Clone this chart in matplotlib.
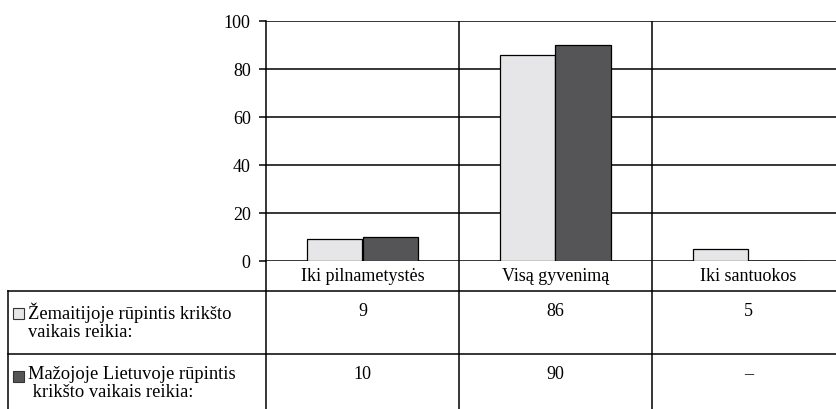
import matplotlib.pyplot as plt

# data
categories = ['Iki pilnametystės', 'Visą gyvenimą', 'Iki santuokos']
zemaitija = [9, 86, 5]
maz_lietuva = [10, 90, 0]
row_labels = ['Žemaitijoje rūpintis krikšto\nvaikais reikia:',
              'Mažojoje Lietuvoje rūpintis\n krikšto vaikais reikia:']
row_values = [['9', '86', '5'], ['10', '90', '–']]
yticks = [0, 20, 40, 60, 80, 100]

light = '#e6e6e8'
dark = '#555557'
colors = [light, dark]

plt.rcParams['font.family'] = ['Liberation Serif', 'DejaVu Serif']
W, H = 837, 410
fig = plt.figure(figsize=(W / 100, H / 100), dpi=100)

# chart area (right edge runs off the picture like in the scan)
ax = fig.add_axes([266 / W, (H - 262) / H, (845 - 266) / W, 240 / H])
ax.set_xlim(0, 3)
ax.set_ylim(0, 100)
bw = 0.29
xs = [i + 0.5 for i in range(len(categories))]
ax.bar([x - bw / 2 for x in xs], zemaitija, bw, color=light, edgecolor='black', lw=0.9, zorder=3)
ax.bar([x + bw / 2 for x in xs], maz_lietuva, bw, color=dark, edgecolor='black', lw=0.9, zorder=3)
ax.set_yticks(yticks)
ax.set_xticks([])
ax.tick_params(axis='y', length=5, width=1.1, pad=6, labelsize=13)
ax.grid(axis='y', color='black', lw=1.1, zorder=1)
for s in ['top', 'right', 'bottom']:
    ax.spines[s].set_visible(False)
ax.spines['left'].set_linewidth(1.1)
for i in range(1, len(categories)):
    ax.axvline(i, color='black', lw=1.1, zorder=2)

# table below the chart, in pixel coordinates
tab = fig.add_axes([0, 0, 1, 1], zorder=-1)
tab.set_xlim(0, W)
tab.set_ylim(H, 0)
tab.axis('off')
tab.patch.set_alpha(0)

col_px = [ax.transData.transform((i, 0))[0] for i in range(len(categories) + 1)]
lk = dict(color='black', lw=1.1)
for x in col_px[:-1]:
    tab.plot([x, x], [262, H], **lk)
tab.plot([8, W], [292, 292], **lk)
tab.plot([8, W], [355, 355], **lk)
tab.plot([8, 8], [292, H], **lk)

for i, c in enumerate(categories):
    cx = (col_px[i] + col_px[i + 1]) / 2
    tab.text(cx, 277, c, ha='center', va='center', fontsize=13)

row_y = [303, 366]
for r, lab in enumerate(row_labels):
    y0 = row_y[r]
    tab.add_patch(plt.Rectangle((13, y0 + 6), 11, 11, facecolor=colors[r],
                                edgecolor='#333333', lw=0.8))
    tab.text(28, y0, lab, ha='left', va='top', fontsize=13.3, linespacing=1.05)
    for i, v in enumerate(row_values[r]):
        cx = (col_px[i] + col_px[i + 1]) / 2
        tab.text(cx, y0, v, ha='center', va='top', fontsize=13)

fig.savefig('out.png', dpi=100)
